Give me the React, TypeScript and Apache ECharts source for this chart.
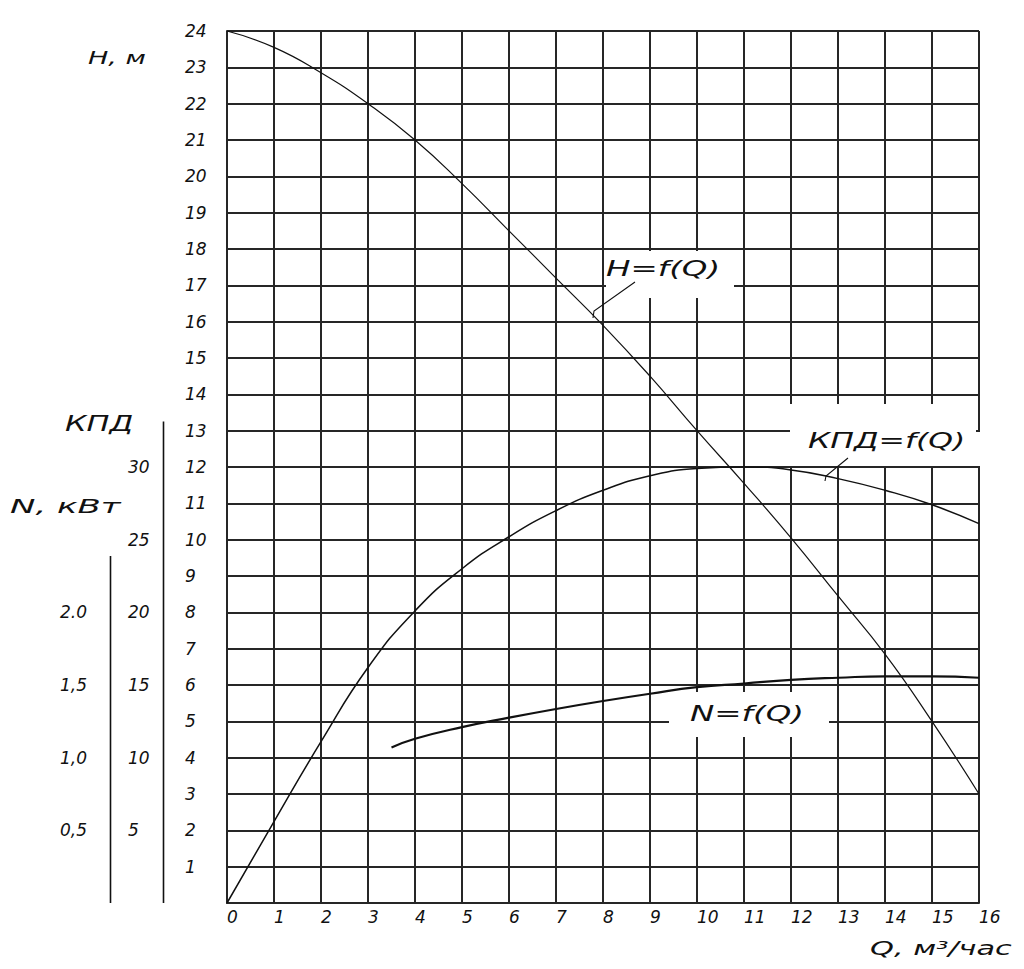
import React, { useEffect, useRef } from "react";
import * as echarts from "echarts";

// Flow Q, m3/h
const Q_VALUES = [0, 1, 2, 3, 4, 5, 6, 7, 8, 9, 10, 11, 12, 13, 14, 15, 16];
// Head H, m
const H_VALUES = [24, 23.55, 22.85, 22.0, 21.0, 19.8, 18.5, 17.2, 15.9, 14.5, 13.0, 11.55, 10.05, 8.45, 6.85, 5.0, 3.0];
// Efficiency КПД, %
const KPD_VALUES = [0, 5.6, 11.1, 16.2, 20.1, 23.0, 25.2, 27.0, 28.4, 29.4, 29.9, 30.0, 29.8, 29.2, 28.4, 27.4, 26.1];
// Power N, kW
const Q_N_VALUES = [3.5, 4, 5, 6, 7, 8, 9, 10, 11, 12, 13, 14, 15, 16];
const N_VALUES = [1.07, 1.13, 1.21, 1.275, 1.335, 1.39, 1.44, 1.485, 1.51, 1.535, 1.55, 1.56, 1.56, 1.55];

const KPD_TICKS = [5, 10, 15, 20, 25, 30];
const N_TICKS = [0.5, 1.0, 1.5, 2.0];
const N_TICK_LABELS = ["0,5", "1,0", "1,5", "2.0"];

const FONT = "DejaVu Sans";
const INK = "#111";

export default function App() {
  const ref = useRef<HTMLDivElement>(null);

  useEffect(() => {
    if (!ref.current) return;
    const chart = echarts.init(ref.current, undefined, { renderer: "svg" });

    const labelStyle = {
      fontFamily: FONT,
      fontStyle: "italic",
      fontSize: 17,
      color: INK,
    };
    const gridLine = { color: "#262626", width: 2 };

    const txt = (text: string, x: number, y: number, size: number, sx: number) => ({
      type: "text",
      x,
      y,
      scaleX: sx,
      z: 20,
      style: {
        text,
        fontFamily: FONT,
        fontStyle: "italic",
        fontSize: size,
        fill: INK,
        textAlign: "left",
        textVerticalAlign: "middle",
      },
    });
    const whiteBox = (x: number, y: number, w: number, h: number) => ({
      type: "rect",
      z: 1,
      shape: { x, y, width: w, height: h },
      style: { fill: "#fff" },
    });
    const vline = (x: number, y1: number, y2: number) => ({
      type: "line",
      z: 5,
      shape: { x1: x, y1, x2: x, y2 },
      style: { stroke: INK, lineWidth: 1.6 },
    });
    const leader = (pts: number[][]) => ({
      type: "polyline",
      z: 5,
      shape: { points: pts },
      style: { stroke: INK, lineWidth: 1.1, fill: "none" },
    });

    const option: any = {
      animation: false,
      backgroundColor: "#fff",
      grid: { left: 227, right: 45, top: 31, bottom: 66, containLabel: false },
      xAxis: {
        type: "value",
        min: 0,
        max: 16,
        interval: 1,
        axisLine: { show: true, lineStyle: gridLine },
        axisTick: { show: false },
        splitLine: { show: true, lineStyle: gridLine },
        axisLabel: { ...labelStyle, align: "left", margin: 5 },
      },
      yAxis: [
        {
          type: "value",
          min: 0,
          max: 24,
          interval: 1,
          axisLine: { show: true, lineStyle: gridLine },
          axisTick: { show: false },
          splitLine: { show: true, lineStyle: gridLine },
          axisLabel: {
            ...labelStyle,
            align: "left",
            margin: 42,
            padding: [0, 0, 13, 0],
            formatter: (v: number) => (v === 0 ? "" : String(v)),
          },
        },
        {
          type: "value",
          position: "left",
          offset: 64,
          min: 0,
          max: 60,
          interval: 5,
          axisLine: { show: false },
          axisTick: { show: false },
          splitLine: { show: false },
          axisLabel: {
            ...labelStyle,
            align: "left",
            margin: 35,
            padding: [0, 0, 13, 0],
            formatter: (v: number) => (KPD_TICKS.indexOf(v) >= 0 ? String(v) : ""),
          },
        },
        {
          type: "value",
          position: "left",
          offset: 116,
          min: 0,
          max: 6,
          interval: 0.5,
          axisLine: { show: false },
          axisTick: { show: false },
          splitLine: { show: false },
          axisLabel: {
            ...labelStyle,
            align: "left",
            margin: 51,
            padding: [0, 0, 13, 0],
            formatter: (v: number) => {
              const i = N_TICKS.indexOf(v);
              return i >= 0 ? N_TICK_LABELS[i] : "";
            },
          },
        },
      ],
      series: [
        {
          name: "H=f(Q)",
          type: "line",
          yAxisIndex: 0,
          data: Q_VALUES.map((q, i) => [q, H_VALUES[i]]),
          smooth: 0.5,
          showSymbol: false,
          lineStyle: { color: INK, width: 1.2 },
          z: 3,
        },
        {
          name: "КПД=f(Q)",
          type: "line",
          yAxisIndex: 1,
          data: Q_VALUES.map((q, i) => [q, KPD_VALUES[i]]),
          smooth: 0.5,
          showSymbol: false,
          lineStyle: { color: INK, width: 1.5 },
          z: 3,
        },
        {
          name: "N=f(Q)",
          type: "line",
          yAxisIndex: 2,
          data: Q_N_VALUES.map((q, i) => [q, N_VALUES[i]]),
          smooth: 0.5,
          showSymbol: false,
          lineStyle: { color: INK, width: 2.2 },
          z: 3,
        },
      ],
      graphic: [
        // label boxes masking the grid
        whiteBox(606, 251, 128, 47),
        whiteBox(790, 404, 186, 62),
        whiteBox(975, 432, 10, 34),
        whiteBox(669, 692, 160, 45),
        // secondary scale lines
        vline(163.5, 421.5, 903),
        vline(110.5, 556, 903),
        // curve captions
        txt("H=f(Q)", 606, 269, 21, 1.55),
        txt("КПД=f(Q)", 808, 441, 21, 1.5),
        txt("N=f(Q)", 690, 714, 21, 1.55),
        leader([[635, 282], [594, 311], [593, 318]]),
        leader([[848, 458], [826, 476], [825, 481]]),
        // axis titles
        txt("H, м", 88, 58, 18, 1.5),
        txt("КПД", 65, 424, 21, 1.45),
        txt("N, кВт", 10, 506, 20, 1.7),
        txt("Q, м³/час", 870, 948, 19, 1.6),
      ],
    };

    chart.setOption(option);
    return () => chart.dispose();
  }, []);

  return (
    <div
      ref={ref}
      style={{ position: "fixed", left: 0, top: 0, width: 1024, height: 969, background: "#fff" }}
    />
  );
}
